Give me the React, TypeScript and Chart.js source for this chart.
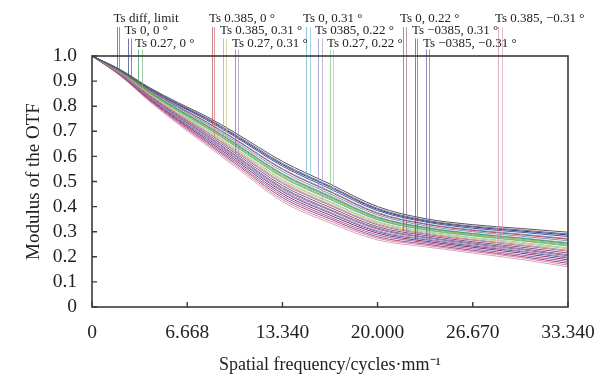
import React, { useEffect, useRef } from "react";
import { Chart, registerables } from "chart.js";
Chart.register(...registerables);

// Spatial frequency sample points (cycles/mm)
const freq = [0, 2, 4, 6, 8, 10, 13.34, 16.67, 20, 23.34, 26.67, 30, 33.34];

const xTicks = [0, 6.668, 13.34, 20.0, 26.67, 33.34];
const xTickLabels = ["0", "6.668", "13.340", "20.000", "26.670", "33.340"];
const yTicks = [0, 0.1, 0.2, 0.3, 0.4, 0.5, 0.6, 0.7, 0.8, 0.9, 1.0];
const yTickLabels = ["0", "0.1", "0.2", "0.3", "0.4", "0.5", "0.6", "0.7", "0.8", "0.9", "1.0"];

// Field labels (Zemax style) and their rows / leader positions (in cycles/mm)
const fieldLabels = [
  "Ts diff, limit",
  "Ts 0, 0 °",
  "Ts 0.27, 0 °",
  "Ts 0.385, 0 °",
  "Ts 0.385, 0.31 °",
  "Ts 0.27, 0.31 °",
  "Ts 0, 0.31 °",
  "Ts 0385, 0.22 °",
  "Ts 0.27, 0.22 °",
  "Ts 0, 0.22 °",
  "Ts −0385, 0.31 °",
  "Ts −0385, −0.31 °",
  "Ts 0.385, −0.31 °",
];
const labelRow = [0, 1, 2, 0, 1, 2, 0, 1, 2, 0, 1, 2, 0];
const leaderT = [1.72, 2.49, 3.22, 8.4, 9.17, 10.01, 14.99, 15.83, 16.67, 21.78, 22.62, 23.39, 28.43];
const leaderS = [1.89, 2.73, 3.5, 8.58, 9.38, 10.26, 15.27, 16.11, 16.91, 21.99, 22.79, 23.6, 28.71];

// Tangential MTF per field
const mtfT = [
  [1, 0.945, 0.875, 0.815, 0.76, 0.695, 0.58, 0.49, 0.4, 0.352, 0.328, 0.313, 0.298],
  [1, 0.943, 0.871, 0.808, 0.751, 0.684, 0.567, 0.478, 0.389, 0.343, 0.319, 0.303, 0.287],
  [1, 0.937, 0.857, 0.788, 0.723, 0.652, 0.529, 0.44, 0.357, 0.316, 0.292, 0.274, 0.254],
  [1, 0.94, 0.864, 0.798, 0.737, 0.668, 0.548, 0.459, 0.373, 0.33, 0.305, 0.288, 0.27],
  [1, 0.936, 0.856, 0.785, 0.72, 0.648, 0.524, 0.436, 0.353, 0.313, 0.288, 0.27, 0.25],
  [1, 0.929, 0.839, 0.76, 0.685, 0.607, 0.476, 0.389, 0.314, 0.279, 0.255, 0.233, 0.208],
  [1, 0.941, 0.865, 0.8, 0.739, 0.671, 0.551, 0.462, 0.376, 0.332, 0.308, 0.291, 0.273],
  [1, 0.939, 0.861, 0.794, 0.731, 0.661, 0.54, 0.451, 0.367, 0.324, 0.3, 0.282, 0.264],
  [1, 0.935, 0.853, 0.781, 0.714, 0.641, 0.516, 0.428, 0.347, 0.307, 0.283, 0.264, 0.243],
  [1, 0.93, 0.842, 0.764, 0.691, 0.614, 0.484, 0.397, 0.32, 0.285, 0.26, 0.239, 0.215],
  [1, 0.925, 0.831, 0.747, 0.668, 0.587, 0.452, 0.366, 0.294, 0.262, 0.238, 0.215, 0.188],
  [1, 0.926, 0.834, 0.751, 0.674, 0.594, 0.46, 0.374, 0.3, 0.268, 0.243, 0.221, 0.195],
  [1, 0.921, 0.823, 0.734, 0.651, 0.567, 0.428, 0.343, 0.274, 0.246, 0.221, 0.197, 0.167],
];
// Sagittal MTF per field
const mtfS = [
  [1, 0.944, 0.872, 0.811, 0.754, 0.688, 0.572, 0.482, 0.393, 0.346, 0.322, 0.307, 0.291],
  [1, 0.942, 0.868, 0.805, 0.746, 0.679, 0.561, 0.471, 0.384, 0.339, 0.314, 0.298, 0.281],
  [1, 0.936, 0.854, 0.783, 0.716, 0.644, 0.519, 0.431, 0.349, 0.309, 0.285, 0.266, 0.246],
  [1, 0.931, 0.845, 0.768, 0.697, 0.621, 0.492, 0.405, 0.327, 0.29, 0.266, 0.245, 0.222],
  [1, 0.933, 0.849, 0.774, 0.705, 0.63, 0.503, 0.416, 0.336, 0.298, 0.274, 0.254, 0.232],
  [1, 0.927, 0.835, 0.754, 0.677, 0.598, 0.465, 0.378, 0.304, 0.271, 0.247, 0.224, 0.199],
  [1, 0.938, 0.859, 0.79, 0.726, 0.655, 0.532, 0.444, 0.36, 0.318, 0.294, 0.276, 0.257],
  [1, 0.932, 0.846, 0.771, 0.7, 0.625, 0.497, 0.409, 0.331, 0.294, 0.269, 0.249, 0.226],
  [1, 0.934, 0.85, 0.777, 0.708, 0.634, 0.508, 0.42, 0.34, 0.302, 0.277, 0.258, 0.236],
  [1, 0.928, 0.838, 0.757, 0.682, 0.603, 0.471, 0.385, 0.31, 0.276, 0.251, 0.229, 0.204],
  [1, 0.923, 0.826, 0.739, 0.657, 0.574, 0.436, 0.351, 0.28, 0.251, 0.226, 0.202, 0.174],
  [1, 0.924, 0.828, 0.743, 0.662, 0.58, 0.444, 0.358, 0.287, 0.257, 0.232, 0.208, 0.181],
  [1, 0.92, 0.82, 0.73, 0.645, 0.56, 0.42, 0.335, 0.267, 0.24, 0.215, 0.19, 0.16],
];

const colorT = [
  "#55555e", "#2d3c8e", "#3c9a5c", "#b84a55", "#b3ae66", "#8a64a6", "#6aaccc",
  "#8c8cbc", "#80c284", "#7a5a7e", "#9c2a5c", "#5a5aa8", "#cf8aab",
];
const colorS = [
  "#77687e", "#4a58a4", "#74b47a", "#c77379", "#c6c886", "#a68cbe", "#88c2dc",
  "#a89ec6", "#a2d0a2", "#94708e", "#b44878", "#7a6cb8", "#dca4c0",
];

const FONT = "'Liberation Serif', 'Times New Roman', serif";

function valueAt(series: number[], x: number): number {
  for (let i = 0; i < freq.length - 1; i++) {
    if (x >= freq[i] && x <= freq[i + 1]) {
      const t = (x - freq[i]) / (freq[i + 1] - freq[i]);
      return series[i] + t * (series[i + 1] - series[i]);
    }
  }
  return series[series.length - 1];
}

const decorPlugin = {
  id: "decor",
  afterDatasetsDraw(chart: any) {
    const { ctx, chartArea, scales } = chart;
    const xs = scales.x;
    const ys = scales.y;
    const rowText = [18.5, 31, 43.5];
    const rowLineTop = [27, 38.5, 49.5];
    ctx.save();
    // leader lines
    ctx.lineWidth = 1;
    for (let i = 0; i < fieldLabels.length; i++) {
      const top = rowLineTop[labelRow[i]];
      const pairs: [number, number[], string][] = [
        [leaderT[i], mtfT[i], colorT[i]],
        [leaderS[i], mtfS[i], colorS[i]],
      ];
      for (const [lx, ser, col] of pairs) {
        const px = Math.round(xs.getPixelForValue(lx)) + 0.5;
        const py = ys.getPixelForValue(valueAt(ser, lx));
        ctx.strokeStyle = col;
        ctx.globalAlpha = 0.7;
        ctx.beginPath();
        ctx.moveTo(px, top);
        ctx.lineTo(px, py);
        ctx.stroke();
      }
    }
    ctx.globalAlpha = 1;
    // labels
    ctx.fillStyle = "#222";
    ctx.font = `13px ${FONT}`;
    ctx.textAlign = "left";
    ctx.textBaseline = "middle";
    for (let i = 0; i < fieldLabels.length; i++) {
      const px = xs.getPixelForValue(leaderT[i]) - 3;
      ctx.fillText(fieldLabels[i], px, rowText[labelRow[i]]);
    }
    // frame
    ctx.strokeStyle = "#3a3a3a";
    ctx.lineWidth = 1.6;
    ctx.strokeRect(chartArea.left, chartArea.top, chartArea.right - chartArea.left, chartArea.bottom - chartArea.top);
    // inward ticks
    ctx.lineWidth = 1.4;
    ctx.beginPath();
    for (const v of yTicks) {
      const py = ys.getPixelForValue(v);
      ctx.moveTo(chartArea.left, py);
      ctx.lineTo(chartArea.left + 5, py);
    }
    for (const v of xTicks) {
      const px = xs.getPixelForValue(v);
      ctx.moveTo(px, chartArea.bottom);
      ctx.lineTo(px, chartArea.bottom - 5);
    }
    ctx.stroke();
    ctx.restore();
  },
};

export default function App() {
  const ref = useRef<HTMLCanvasElement | null>(null);
  useEffect(() => {
    document.body.style.margin = "0";
    const datasets: any[] = [];
    for (let i = 0; i < fieldLabels.length; i++) {
      datasets.push({
        label: fieldLabels[i] + " T",
        data: freq.map((f, k) => ({ x: f, y: mtfT[i][k] })),
        borderColor: colorT[i],
        borderWidth: 1,
        pointRadius: 0,
        cubicInterpolationMode: "monotone",
        fill: false,
      });
      datasets.push({
        label: fieldLabels[i] + " S",
        data: freq.map((f, k) => ({ x: f, y: mtfS[i][k] })),
        borderColor: colorS[i],
        borderWidth: 1,
        pointRadius: 0,
        cubicInterpolationMode: "monotone",
        fill: false,
      });
    }
    const chart = new Chart(ref.current as HTMLCanvasElement, {
      type: "line",
      data: { datasets },
      options: {
        responsive: false,
        animation: false,
        layout: { padding: { top: 56, right: 42, left: 0, bottom: 0 } },
        plugins: { legend: { display: false }, tooltip: { enabled: false } },
        scales: {
          x: {
            type: "linear",
            min: 0,
            max: 33.34,
            grid: { display: false, drawTicks: false },
            border: { display: false },
            afterBuildTicks: (s: any) => {
              s.ticks = xTicks.map((v) => ({ value: v }));
            },
            afterFit: (s: any) => {
              s.height = 74;
            },
            ticks: {
              padding: 14,
              color: "#222",
              font: { family: FONT, size: 19.5 },
              maxRotation: 0,
              autoSkip: false,
              callback: (v: any) => {
                const i = xTicks.findIndex((t) => Math.abs(t - v) < 1e-6);
                return i >= 0 ? xTickLabels[i] : "";
              },
            },
            title: {
              display: true,
              text: "Spatial frequency/cycles·mm⁻¹",
              color: "#222",
              font: { family: FONT, size: 18 },
              padding: { top: 0, bottom: 5 },
            },
          },
          y: {
            type: "linear",
            min: 0,
            max: 1,
            grid: { display: false, drawTicks: false },
            border: { display: false },
            afterBuildTicks: (s: any) => {
              s.ticks = yTicks.map((v) => ({ value: v }));
            },
            afterFit: (s: any) => {
              s.width = 92;
            },
            ticks: {
              padding: 15,
              color: "#222",
              font: { family: FONT, size: 19.5 },
              autoSkip: false,
              callback: (v: any) => {
                const i = yTicks.findIndex((t) => Math.abs(t - v) < 1e-6);
                return i >= 0 ? yTickLabels[i] : "";
              },
            },
            title: {
              display: true,
              text: "Modulus of the OTF",
              color: "#222",
              font: { family: FONT, size: 19 },
              padding: { top: 23, bottom: 0 },
            },
          },
        },
      },
      plugins: [decorPlugin],
    } as any);
    return () => chart.destroy();
  }, []);
  return (
    <div style={{ position: "absolute", left: 0, top: 0, width: 610, height: 381, background: "#fff" }}>
      <canvas ref={ref} width={610} height={381} style={{ display: "block" }} />
    </div>
  );
}
